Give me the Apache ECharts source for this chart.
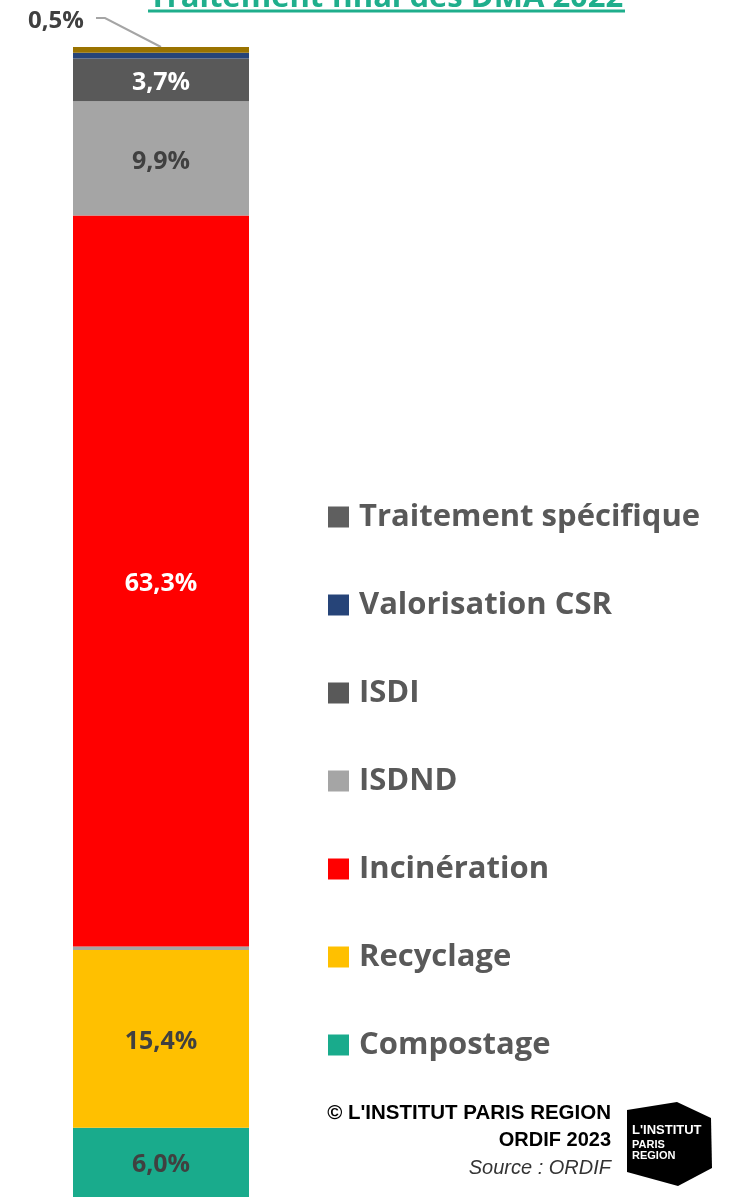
<!DOCTYPE html>
<html lang="fr">
<head>
    <meta charset="UTF-8">
    <title>Traitement final des DMA 2022</title>
    <script src="https://cdn.jsdelivr.net/npm/echarts@6/dist/echarts.min.js"></script>
    <style>
        html, body { margin: 0; padding: 0; background: #fff; }
        #main { width: 729px; height: 1197px; }
    </style>
</head>
<body>
<div id="main"></div>
<script type="text/javascript">
    // données (bas de la pile -> haut)
    var categories = ['DMA 2022'];
    var seriesNames = ['Compostage', 'Recyclage', 'Autre', 'Incinération', 'ISDND', 'ISDI', 'Valorisation CSR', 'Traitement spécifique'];
    var seriesValues = [6.0, 15.4, 0.3, 63.3, 9.9, 3.7, 0.5, 0.5];
    var seriesColors = ['#19ab8c', '#ffc000', '#a5a5a5', '#ff0000', '#a5a5a5', '#595959', '#264478', '#9a7300'];
    var labelColors = ['#404040', '#404040', null, '#ffffff', '#404040', '#ffffff', null, '#404040'];
    // légende (ordre affiché, haut -> bas)
    var legendNames = ['Traitement spécifique', 'Valorisation CSR', 'ISDI', 'ISDND', 'Incinération', 'Recyclage', 'Compostage'];
    var legendColors = ['#5f5f5f', '#264478', '#595959', '#a5a5a5', '#ff0000', '#ffc000', '#19ab8c'];

    var total = 0;
    seriesValues.forEach(function (v) { total += v; });

    function fmt(v) {
        return v.toFixed(1).replace('.', ',') + '%';
    }

    var series = seriesNames.map(function (name, i) {
        var s = {
            name: name,
            type: 'bar',
            stack: 'total',
            barWidth: 176,
            data: [seriesValues[i]],
            itemStyle: { color: seriesColors[i] },
            label: {
                show: labelColors[i] !== null,
                position: 'inside',
                offset: [0, 3],
                color: labelColors[i] || '#404040',
                fontFamily: 'Open Sans',
                fontWeight: 'bold',
                fontSize: 25,
                formatter: function (p) { return fmt(p.value); }
            }
        };
        if (name === 'Traitement spécifique') {
            // étiquette déportée à gauche, trait de rappel dessiné plus bas
            s.label.position = 'top';
            s.label.offset = [0, 0];
            s.label.fontSize = 24;
            s.labelLayout = { x: 56, y: 21, align: 'center', verticalAlign: 'middle' };
        }
        return s;
    });

    var myChart = echarts.init(document.getElementById('main'));
    myChart.setOption({
        animation: false,
        grid: { left: 73, width: 176, top: 47, bottom: 0, containLabel: false },
        xAxis: {
            type: 'category',
            data: categories,
            show: false
        },
        yAxis: {
            type: 'value',
            min: 0,
            max: total,
            show: false
        },
        legend: {
            orient: 'vertical',
            left: 323,
            top: 496,
            itemWidth: 21,
            itemHeight: 21,
            itemGap: 56,
            icon: 'rect',
            selectedMode: false,
            data: legendNames.map(function (n, i) {
                return { name: n, itemStyle: { color: legendColors[i] } };
            }),
            textStyle: {
                fontFamily: 'Open Sans',
                fontWeight: 'bold',
                fontSize: 31,
                lineHeight: 32,
                color: '#595959',
                padding: [0, 0, 0, 5]
            }
        },
        graphic: [
            {
                type: 'text',
                x: 386,
                y: -2,
                style: {
                    text: 'Traitement final des DMA 2022',
                    fill: '#1fae8c',
                    font: 'bold 31px "Open Sans"',
                    align: 'center',
                    verticalAlign: 'middle'
                }
            },
            {
                type: 'line',
                shape: { x1: 148, y1: 11, x2: 625, y2: 11 },
                style: { stroke: '#1fae8c', lineWidth: 3 }
            },
            {
                type: 'text',
                x: 611, y: 1113,
                style: {
                    text: "© L'INSTITUT PARIS REGION",
                    fill: '#000',
                    font: 'bold 20.5px "Liberation Sans"',
                    align: 'right', verticalAlign: 'middle'
                }
            },
            {
                type: 'text',
                x: 611, y: 1140,
                style: {
                    text: 'ORDIF 2023',
                    fill: '#000',
                    font: 'bold 20px "Liberation Sans"',
                    align: 'right', verticalAlign: 'middle'
                }
            },
            {
                type: 'text',
                x: 611, y: 1168,
                style: {
                    text: 'Source : ORDIF',
                    fill: '#333',
                    font: 'italic 20px "Liberation Sans"',
                    align: 'right', verticalAlign: 'middle'
                }
            },
            {
                type: 'polygon',
                shape: { points: [[627, 1110], [677, 1102], [711, 1118], [712, 1168], [678, 1186], [627, 1172]] },
                style: { fill: '#000' }
            },
            {
                type: 'text',
                x: 632, y: 1130,
                style: { text: "L'INSTITUT", fill: '#fff', font: 'bold 13px "Liberation Sans"', verticalAlign: 'middle' }
            },
            {
                type: 'text',
                x: 632, y: 1150,
                style: { text: 'PARIS\nREGION', fill: '#fff', font: 'bold 11px "Liberation Sans"', lineHeight: 11, verticalAlign: 'middle' }
            }
        ],
        series: series
    });

    // trait de rappel de l'étiquette 0,5 % vers le haut de la barre
    var topPt = myChart.convertToPixel({ gridIndex: 0 }, [0, total]);
    myChart.setOption({
        graphic: [{
            id: 'leader',
            type: 'polyline',
            shape: { points: [[96, 18], [105, 18], [topPt[0], topPt[1]]] },
            style: { stroke: '#a5a5a5', lineWidth: 2, fill: null }
        }]
    });
</script>
</body>
</html>
